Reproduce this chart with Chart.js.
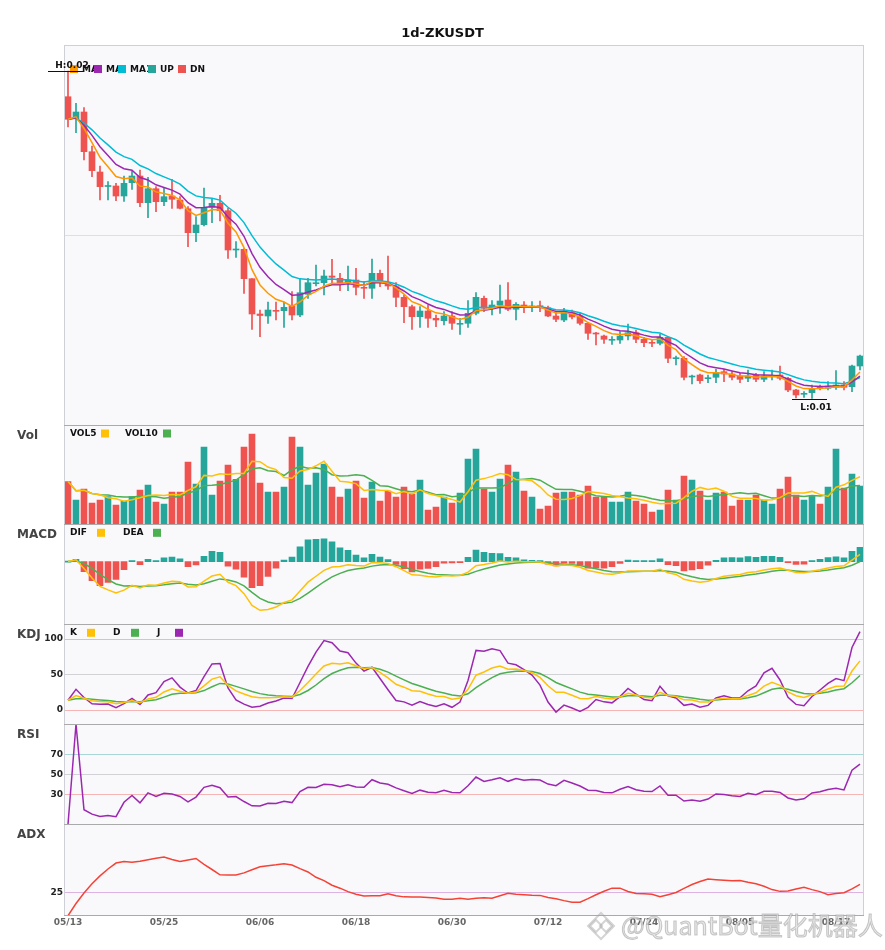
<!DOCTYPE html>
<html>
<head>
<meta charset="utf-8">
<title>1d-ZKUSDT</title>
<script src="https://cdn.jsdelivr.net/npm/chart.js@4.4.1/dist/chart.umd.min.js"></script>
<style>
html,body{margin:0;padding:0;background:#fff;}
#wrap{width:885px;height:950px;}
</style>
</head>
<body>
<div id="wrap"><canvas id="kline" width="885" height="950"></canvas></div>
<script>
const symbol = "1d-ZKUSDT";
const startDay = Date.UTC(2024, 4, 13);

const openP = [0.019449,0.018789,0.01899,0.017799,0.01719,0.016755,0.01677,0.01647,0.016869,0.01707,
0.016269,0.016689,0.016299,0.01647,0.01635,0.016089,0.015369,0.015609,0.016131,0.016251,
0.016029,0.01485,0.014871,0.013989,0.01293,0.01287,0.013035,0.013029,0.01317,0.0129,
0.013521,0.013839,0.013869,0.01407,0.014001,0.013869,0.01395,0.013731,0.013701,0.014151,
0.013869,0.013749,0.013431,0.013149,0.012849,0.01302,0.012801,0.012729,0.01287,0.012621,
0.012651,0.012951,0.013401,0.013101,0.0132,0.01335,0.013071,0.0132,0.01314,0.013179,
0.013119,0.01287,0.01275,0.012969,0.01287,0.012651,0.012351,0.01227,0.012141,0.01215,
0.01227,0.012369,0.012171,0.012069,0.012051,0.012231,0.011589,0.011601,0.01104,0.0111,
0.010989,0.011031,0.011199,0.01113,0.01107,0.011001,0.0111,0.010971,0.011061,0.0111,
0.011001,0.01065,0.010521,0.010569,0.010731,0.010701,0.010731,0.0108,0.010749,0.01137];

const highP = [0.02022,0.019251,0.019119,0.01797,0.01737,0.016899,0.016851,0.01707,0.017211,0.01725,
0.017031,0.016749,0.016731,0.016971,0.016449,0.016149,0.015849,0.01671,0.016371,0.016491,
0.016101,0.015099,0.014889,0.013989,0.01305,0.01329,0.01329,0.01329,0.013599,0.013971,
0.014001,0.0144,0.01425,0.014571,0.014151,0.01437,0.014301,0.013899,0.01458,0.01425,
0.01467,0.013869,0.0135,0.0132,0.013149,0.0132,0.0129,0.012999,0.012999,0.012801,
0.013329,0.013569,0.01347,0.013329,0.0138,0.013869,0.013269,0.013299,0.013299,0.01332,
0.01317,0.012969,0.013101,0.01305,0.01296,0.012651,0.012381,0.0123,0.012249,0.012399,
0.01263,0.01245,0.012231,0.01215,0.01233,0.012249,0.01167,0.011649,0.0111,0.01113,
0.0111,0.011271,0.011271,0.011199,0.011151,0.01125,0.011151,0.011199,0.01125,0.01137,
0.011031,0.010671,0.010599,0.0108,0.0108,0.010899,0.011229,0.010899,0.0114,0.0117];

const lowP = [0.01854,0.018369,0.01755,0.017049,0.01635,0.01635,0.016329,0.016311,0.016671,0.016149,
0.015819,0.015999,0.016179,0.016101,0.01608,0.014949,0.015099,0.01557,0.015669,0.01572,
0.014601,0.014631,0.013551,0.012471,0.012249,0.012651,0.01275,0.012531,0.01275,0.012849,
0.013401,0.01377,0.0135,0.013851,0.013629,0.013629,0.0135,0.013401,0.013401,0.013749,
0.013671,0.013149,0.012669,0.012471,0.012531,0.012531,0.012549,0.0126,0.012471,0.012321,
0.012531,0.0129,0.012999,0.0129,0.012951,0.013029,0.01275,0.012969,0.012999,0.012999,
0.012849,0.012699,0.012699,0.01278,0.0126,0.012171,0.012,0.012051,0.012021,0.012051,
0.01215,0.012069,0.011949,0.011949,0.012,0.011469,0.0114,0.01095,0.01083,0.010851,
0.010869,0.010869,0.010899,0.01095,0.010869,0.010899,0.010899,0.010899,0.01095,0.01095,
0.010599,0.01041,0.010431,0.010395,0.01065,0.01065,0.010671,0.01065,0.010599,0.01125];

const closeP = [0.018771,0.01899,0.017799,0.017229,0.016749,0.01677,0.01647,0.016851,0.01707,0.016269,
0.016689,0.016299,0.016449,0.016371,0.016101,0.015369,0.0156,0.016131,0.016251,0.016029,
0.01485,0.014871,0.013989,0.01293,0.012885,0.01305,0.013011,0.013131,0.0129,0.013569,
0.013869,0.013851,0.01407,0.014031,0.013821,0.01395,0.013731,0.013701,0.014151,0.013869,
0.01377,0.013431,0.013149,0.012849,0.01302,0.012801,0.01275,0.01287,0.012651,0.01263,
0.012951,0.013431,0.013101,0.0132,0.01332,0.013071,0.013221,0.013119,0.013149,0.013119,
0.01287,0.012771,0.012999,0.01284,0.012651,0.012351,0.01233,0.012171,0.01215,0.01227,
0.012369,0.012171,0.012069,0.012051,0.012231,0.011601,0.011601,0.011031,0.01107,0.010929,
0.011001,0.011169,0.01113,0.011031,0.010971,0.01107,0.010971,0.01107,0.01107,0.011001,
0.01065,0.0105,0.01053,0.01068,0.01071,0.01077,0.0108,0.010731,0.01137,0.01167];

// volume in millions
const volume = [42.7,24.3,35.3,21.3,24.3,27.7,19.3,23.3,27.7,34.3,
39.3,22.3,20.3,32.3,32.3,62.3,40.3,77.3,29.3,43.3,
59.3,45,77.3,90.3,41.3,32.3,32.3,37.3,87.3,77.3,
39.3,51.3,60.3,37.3,27.3,35.3,43.3,26.3,42.3,23.3,
33.3,27.3,37.3,30.3,44.3,14.3,17.3,27.3,21.3,31.3,
65.3,75.3,35.3,32.3,45.3,59.3,52.3,33.3,27.3,15.3,
18.3,31.3,32.3,32.3,29.3,38.3,27.3,27.3,22.3,22.3,
32.3,23.3,20.3,12.3,14.3,34.3,24.3,48.3,44.3,33.3,
24.3,31.3,32.3,18.3,24.3,24.3,29.3,24.3,20.3,35.3,
47.3,29.3,24.3,28.3,20.3,37.3,75.3,36.3,50.3,38.3];

const kdjTicks = [0, 50, 100];
const rsiTicks = [30, 50, 70];
const adxTicks = [25];
const priceGrid = [0.0153];

const FONT = "DejaVu Sans";
const UP = "#26a69a", DN = "#ef5350";

// day labels
const dates = openP.map((_, i) => {
    const d = new Date(startDay + i * 86400000);
    return String(d.getUTCMonth() + 1).padStart(2, "0") + "/" + String(d.getUTCDate()).padStart(2, "0");
});

// indicators
function ma(arr, n) {
    return arr.map((_, i) => {
        const s = Math.max(0, i - n + 1);
        let t = 0;
        for (let k = s; k <= i; k++) t += arr[k];
        return t / (i - s + 1);
    });
}
function ema(arr, n) {
    const a = 2 / (n + 1), out = [];
    arr.forEach((v, i) => out.push(i ? out[i - 1] + a * (v - out[i - 1]) : v));
    return out;
}
const ma5 = ema(closeP, 5), ma8 = ema(closeP, 8), ma13 = ema(closeP, 13);
const vol5 = ma(volume, 5), vol10 = ma(volume, 10);

const dif = ma5.map((v, i) => v - ma13[i]);
const dea = ema(dif, 5);
const hist = dif.map((v, i) => 2 * (v - dea[i]));

const kLine = [], dLine = [], jLine = [];
closeP.forEach((c, i) => {
    const s = Math.max(0, i - 8);
    const hh = Math.max(...highP.slice(s, i + 1)), ll = Math.min(...lowP.slice(s, i + 1));
    const rsv = hh === ll ? 50 : (c - ll) / (hh - ll) * 100;
    const k = i ? (2 * kLine[i - 1] + rsv) / 3 : rsv;
    const d = i ? (2 * dLine[i - 1] + k) / 3 : k;
    kLine.push(k); dLine.push(d); jLine.push(3 * k - 2 * d);
});

let ag = 0, al = 0;
const rsi = closeP.map((c, i) => {
    if (!i) return 0;
    const ch = c - closeP[i - 1];
    ag += (Math.max(ch, 0) - ag) / 14;
    al += (Math.max(-ch, 0) - al) / 14;
    return ag + al ? 100 * ag / (ag + al) : 50;
});

let pdm = 0, mdm = 0, adxv = 0;
const a14 = 2 / 15;
const adx = highP.map((h, i) => {
    if (!i) return 0;
    const up = h - highP[i - 1], dn = lowP[i - 1] - lowP[i];
    const p = up > dn && up > 0 ? up : 0, m = dn > up && dn > 0 ? dn : 0;
    pdm += a14 * (p - pdm); mdm += a14 * (m - mdm);
    const dx = pdm + mdm ? Math.abs(pdm - mdm) / (pdm + mdm) * 100 : 0;
    adxv += a14 * (dx - adxv);
    return adxv;
});

const macdLow = Math.min(...dif, ...dea, ...hist);
const macdSpan = -macdLow / 0.487;

const candleColors = closeP.map((c, i) => c >= openP[i] ? UP : DN);
const histColors = hist.map(v => v >= 0 ? UP : DN);

function line(label, data, axis, color) {
    return {type: "line", label, data, yAxisID: axis, borderColor: color, borderWidth: 1.5,
        pointRadius: 0, tension: 0, fill: false, order: 0};
}
function bars(label, data, axis, colors, width, order) {
    return {type: "bar", label, data, yAxisID: axis, backgroundColor: colors, borderWidth: 0,
        barThickness: width, grouped: false, minBarLength: 1, order};
}

const fixW = s => { s.width = 64; };
function yAxis(weight, stackWeight, min, max, extra) {
    return Object.assign({
        type: "linear", position: "left", stack: "panels", weight, stackWeight, min, max,
        afterFit: fixW, border: {display: false},
        grid: {display: false, drawTicks: false},
        ticks: {display: false}
    }, extra);
}
function refAxis(tickVals, colorOf) {
    return {
        afterBuildTicks: s => { s.ticks = tickVals.map(v => ({value: v})); },
        grid: {display: true, drawTicks: false, lineWidth: 1, color: c => colorOf(c.tick.value)},
        ticks: {display: true, padding: 1, color: "#222", font: {family: FONT, size: 9, weight: "bold"}}
    };
}

const panelPlugin = {
    id: "panels",
    beforeDraw(chart) {
        const {ctx, chartArea: a} = chart;
        ctx.save();
        ctx.fillStyle = "#f9f9fc";
        ctx.fillRect(a.left, a.top, a.right - a.left, a.bottom - a.top);
        ctx.restore();
    },
    afterDraw(chart) {
        const {ctx, chartArea: a, scales} = chart;
        ctx.save();
        // frames
        ctx.lineWidth = 1;
        ctx.strokeStyle = "#cfcfd8";
        ctx.beginPath();
        ctx.moveTo(a.left + 0.5, a.top); ctx.lineTo(a.left + 0.5, a.bottom);
        ctx.moveTo(a.right - 0.5, a.top); ctx.lineTo(a.right - 0.5, a.bottom);
        ctx.moveTo(a.left, a.top + 0.5); ctx.lineTo(a.right, a.top + 0.5);
        ctx.stroke();
        ctx.strokeStyle = "#aaaaaa";
        ctx.beginPath();
        ["yVol", "yMacd", "yKdj", "yRsi", "yAdx"].forEach(id => {
            const y = Math.round(scales[id].top) + 0.5;
            ctx.moveTo(a.left, y); ctx.lineTo(a.right, y);
        });
        ctx.moveTo(a.left, Math.round(a.bottom) - 0.5); ctx.lineTo(a.right, Math.round(a.bottom) - 0.5);
        ctx.stroke();

        // title
        ctx.fillStyle = "#111";
        ctx.font = "bold 13px '" + FONT + "'";
        ctx.textAlign = "center"; ctx.textBaseline = "middle";
        ctx.fillText(symbol, chart.width / 2, 34);

        // panel names
        ctx.font = "bold 12px '" + FONT + "'";
        ctx.fillStyle = "#444";
        ctx.textAlign = "left";
        [["yVol", "Vol"], ["yMacd", "MACD"], ["yKdj", "KDJ"], ["yRsi", "RSI"], ["yAdx", "ADX"]].forEach(([id, name]) => {
            ctx.fillText(name, 17, scales[id].top + 11);
        });

        // legends
        ctx.font = "bold 9px '" + FONT + "'";
        const mainTop = scales.y.top;
        const mainItems = [["MA5", "#ff9800", 70, 94], ["MA8", "#9c27b0", 94, 118], ["MA13", "#00bcd4", 118, 148],
            ["UP", UP, 148, 178], ["DN", DN, 178, 230]];
        mainItems.forEach(([txt, col, bx, nextX]) => {
            ctx.fillStyle = col;
            ctx.fillRect(bx, mainTop + 20, 8, 8);
            ctx.save();
            ctx.beginPath(); ctx.rect(bx + 8, mainTop + 10, nextX - bx, 30); ctx.clip();
            ctx.fillStyle = "#111";
            ctx.fillText(txt, bx + 12, mainTop + 24.5);
            ctx.restore();
        });
        const subLegend = (id, items) => {
            const yc = scales[id].top + 8.5;
            items.forEach(([txt, col, tx, bx]) => {
                ctx.fillStyle = "#111";
                ctx.fillText(txt, tx, yc);
                ctx.fillStyle = col;
                ctx.fillRect(bx, yc - 4, 8, 8);
            });
        };
        subLegend("yVol", [["VOL5", "#ffc107", 70, 101], ["VOL10", "#4caf50", 125, 163]]);
        subLegend("yMacd", [["DIF", "#ffc107", 70, 97], ["DEA", "#4caf50", 123, 153]]);
        subLegend("yKdj", [["K", "#ffc107", 70, 87], ["D", "#4caf50", 113, 131], ["J", "#9c27b0", 157, 175]]);

        // high / low marks
        const hiIdx = highP.indexOf(Math.max(...highP));
        const loIdx = lowP.indexOf(Math.min(...lowP));
        const xs = scales.x, ys = scales.y;
        ctx.strokeStyle = "#111"; ctx.fillStyle = "#111"; ctx.lineWidth = 1;
        ctx.textAlign = "center";
        const hx = xs.getPixelForValue(hiIdx), hy = Math.round(ys.getPixelForValue(highP[hiIdx])) + 0.5;
        ctx.beginPath(); ctx.moveTo(hx - 20, hy); ctx.lineTo(hx + 15, hy); ctx.stroke();
        ctx.textBaseline = "bottom";
        ctx.fillText("H:" + highP[hiIdx].toFixed(2), hx + 4, hy - 1);
        const lx = xs.getPixelForValue(loIdx), ly = Math.round(ys.getPixelForValue(lowP[loIdx])) + 0.5;
        ctx.beginPath(); ctx.moveTo(lx - 20, ly); ctx.lineTo(lx + 15, ly); ctx.stroke();
        ctx.textBaseline = "top";
        ctx.fillText("L:" + lowP[loIdx].toFixed(2), lx + 4, ly + 4);

        // watermark
        ctx.strokeStyle = "rgba(160,160,160,0.45)";
        ctx.lineWidth = 2;
        const cx = 601, cy = 926;
        [[13, 0], [6, -5], [6, 5]].forEach(([r, dx]) => {
            ctx.beginPath();
            ctx.moveTo(cx + dx, cy - r); ctx.lineTo(cx + dx + r, cy); ctx.lineTo(cx + dx, cy + r); ctx.lineTo(cx + dx - r, cy);
            ctx.closePath(); ctx.stroke();
        });
        ctx.font = "25px 'Noto Sans CJK SC'";
        ctx.textAlign = "left"; ctx.textBaseline = "alphabetic";
        ctx.fillStyle = "rgba(225,225,225,0.75)";
        ctx.strokeStyle = "rgba(140,140,140,0.45)";
        ctx.lineWidth = 1;
        ctx.fillText("@QuantBot量化机器人", 621, 935);
        ctx.strokeText("@QuantBot量化机器人", 621, 935);
        ctx.restore();
    }
};

new Chart(document.getElementById("kline"), {
    type: "bar",
    data: {
        labels: dates,
        datasets: [
            line("MA5", ma5, "y", "#ff9800"),
            line("MA8", ma8, "y", "#9c27b0"),
            line("MA13", ma13, "y", "#00bcd4"),
            bars("wick", lowP.map((l, i) => [l, highP[i]]), "y", candleColors, 1, 2),
            bars("body", openP.map((o, i) => [o, closeP[i]]), "y", candleColors, 6, 1),
            bars("VOL", volume, "yVol", candleColors, 6, 1),
            line("VOL5", vol5, "yVol", "#ffc107"),
            line("VOL10", vol10, "yVol", "#4caf50"),
            bars("MACD", hist, "yMacd", histColors, 6, 1),
            line("DIF", dif, "yMacd", "#ffc107"),
            line("DEA", dea, "yMacd", "#4caf50"),
            line("K", kLine, "yKdj", "#ffc107"),
            line("D", dLine, "yKdj", "#4caf50"),
            line("J", jLine, "yKdj", "#9c27b0"),
            line("RSI", rsi, "yRsi", "#9c27b0"),
            line("ADX", adx, "yAdx", "#f44336")
        ]
    },
    options: {
        responsive: false,
        animation: false,
        events: [],
        layout: {padding: {top: 45, right: 21, bottom: 0, left: 0}},
        plugins: {legend: {display: false}, tooltip: {enabled: false}, title: {display: false}},
        scales: {
            x: {
                type: "category", offset: true,
                grid: {display: false, drawTicks: false}, border: {display: false},
                afterFit: s => { s.height = 34.3; },
                ticks: {
                    autoSkip: false, maxRotation: 0, padding: 2, color: "#666",
                    font: {family: FONT, size: 9, weight: "bold"},
                    callback: (v, i) => i % 12 === 0 ? dates[i] : ""
                }
            },
            y: yAxis(6, 380, 0.0096, 0.0210, {
                afterBuildTicks: s => { s.ticks = priceGrid.map(v => ({value: v})); },
                grid: {display: true, drawTicks: false, color: "#dedee4"}
            }),
            yVol: yAxis(5, 99.3, 0, 99.3),
            yMacd: yAxis(4, 100, -0.627 * macdSpan, 0.373 * macdSpan),
            yKdj: yAxis(3, 100, -20.1, 120.7, refAxis(kdjTicks, v => v === 100 ? "#a9d6d6" : v === 50 ? "#d2d2d6" : "#f5b5b5")),
            yRsi: yAxis(2, 100, 0, 100, refAxis(rsiTicks, v => v === 70 ? "#a9d6d6" : v === 50 ? "#d2d2d6" : "#f5b5b5")),
            yAdx: yAxis(1, 91.4, 0, 100, refAxis(adxTicks, () => "#dcb3e3"))
        }
    },
    plugins: [panelPlugin]
});
</script>
</body>
</html>
